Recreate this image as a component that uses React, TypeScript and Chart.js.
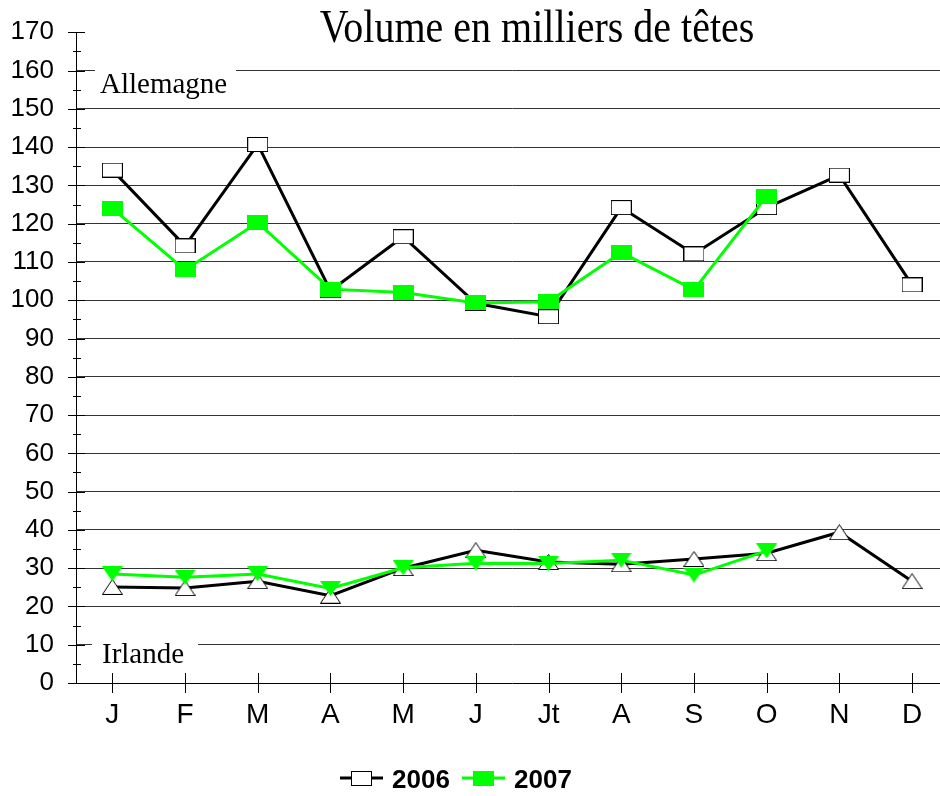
import React, { useEffect, useRef } from "react";
import { Chart, registerables } from "chart.js";

Chart.register(...registerables);

const months = ["J", "F", "M", "A", "M", "J", "Jt", "A", "S", "O", "N", "D"];
const allemagne2006 = [134, 114.2, 140.7, 102.5, 116.6, 99.2, 95.7, 124.2, 112.1, 124.2, 132.7, 104];
const allemagne2007 = [124, 107.9, 120.3, 102.9, 102, 99.3, 99.6, 112.5, 102.7, 127.2, null, null];
const irlande2006 = [25.1, 24.8, 26.6, 22.8, 30.0, 34.7, 31.6, 31.0, 32.4, 33.9, 39.4, 26.6];
const irlande2007 = [28.5, 27.6, 28.5, 24.7, 30.1, 31.3, 31.2, 32.1, 28.2, 34.5, null, null];
const legendLabels = ["2006", "2007"];
const titleText = "Volume en milliers de têtes";
const groupLabels = ["Allemagne", "Irlande"];

const GREEN = "#00ff00";
// plot frame (layout, not data)
const AREA = { left: 76, right: 948.4, top: 32.3, bottom: 683 };
const X_AXIS_H = 60;

function makeCanvas(w: number, h: number, draw: (c: CanvasRenderingContext2D) => void) {
  const c = document.createElement("canvas");
  c.width = w;
  c.height = h;
  const ctx = c.getContext("2d")!;
  draw(ctx);
  return c;
}

export default function App() {
  const ref = useRef<HTMLCanvasElement | null>(null);

  useEffect(() => {
    if (!ref.current) return;

    const rectWhite = makeCanvas(21, 15, (c) => {
      c.fillStyle = "#fff";
      c.fillRect(0, 0, 21, 15);
      c.strokeStyle = "#000";
      c.lineWidth = 1;
      c.strokeRect(0.5, 0.5, 20, 14);
    });
    const rectGreen = makeCanvas(21, 15, (c) => {
      c.fillStyle = GREEN;
      c.fillRect(0, 0, 21, 15);
    });
    const triUp = makeCanvas(21, 16, (c) => {
      c.beginPath();
      c.moveTo(10.5, 0.5);
      c.lineTo(20.5, 15.5);
      c.lineTo(0.5, 15.5);
      c.closePath();
      c.fillStyle = "#fff";
      c.fill();
      c.strokeStyle = "#000";
      c.lineWidth = 1;
      c.stroke();
    });
    const triDown = makeCanvas(21, 15, (c) => {
      c.beginPath();
      c.moveTo(0, 0);
      c.lineTo(21, 0);
      c.lineTo(10.5, 15);
      c.closePath();
      c.fillStyle = GREEN;
      c.fill();
    });

    const framePlugin = {
      id: "frame",
      afterLayout(chart: any) {
        const ca = chart.chartArea;
        ca.left = AREA.left;
        ca.right = AREA.right;
        ca.top = AREA.top;
        ca.bottom = AREA.bottom;
        ca.width = AREA.right - AREA.left;
        ca.height = AREA.bottom - AREA.top;
        const ys = chart.scales.y;
        ys.left = 0;
        ys.right = AREA.left;
        ys.width = AREA.left;
        ys.top = AREA.top;
        ys.bottom = AREA.bottom;
        ys.height = AREA.bottom - AREA.top;
        ys.configure();
        const xs = chart.scales.x;
        xs.left = AREA.left;
        xs.right = AREA.right;
        xs.width = AREA.right - AREA.left;
        xs.top = AREA.bottom;
        xs.bottom = AREA.bottom + X_AXIS_H;
        xs.height = X_AXIS_H;
        xs.configure();
      },
    };

    const decorPlugin = {
      id: "decor",
      afterDraw(chart: any) {
        const ctx = chart.ctx as CanvasRenderingContext2D;
        const xs = chart.scales.x;
        const ys = chart.scales.y;
        const left = chart.chartArea.left;
        const bottom = chart.chartArea.bottom;
        ctx.save();
        // tick marks crossing axes
        ctx.strokeStyle = "#000";
        ctx.lineWidth = 1;
        ctx.beginPath();
        for (let v = 0; v <= 170; v += 5) {
          const y = Math.round(ys.getPixelForValue(v)) + 0.5;
          if (v % 10 === 0) {
            ctx.moveTo(left - 8, y);
            ctx.lineTo(left + 9, y);
          } else {
            ctx.moveTo(left - 3, y);
            ctx.lineTo(left + 5, y);
          }
        }
        for (let i = 0; i < months.length; i++) {
          const x = Math.round(xs.getPixelForValue(i)) + 0.5;
          ctx.moveTo(x, bottom - 10);
          ctx.lineTo(x, bottom + 10);
        }
        ctx.stroke();

        // group labels with white boxes over gridlines
        const y160 = ys.getPixelForValue(160);
        const y10 = ys.getPixelForValue(10);
        ctx.fillStyle = "#fff";
        ctx.fillRect(left + 19, y160 - 8, 141, 16);
        ctx.fillRect(left + 16, y10 - 6, 106, 12);
        ctx.fillStyle = "#000";
        ctx.font = '29px "Liberation Serif"';
        ctx.textAlign = "left";
        ctx.textBaseline = "alphabetic";
        ctx.fillText(groupLabels[0], left + 24, y160 + 22.5);
        ctx.fillText(groupLabels[1], left + 26, y10 + 18.5);

        // title
        ctx.save();
        ctx.translate(537, 41.5);
        ctx.scale(1, 1.15);
        ctx.font = '40px "Liberation Serif"';
        ctx.textAlign = "center";
        ctx.fillText(titleText, 0, 0);
        ctx.restore();

        // legend
        const items = [
          { x: 340, color: "#000", marker: rectWhite },
          { x: 462, color: GREEN, marker: rectGreen },
        ];
        const ly = 778;
        items.forEach((it, i) => {
          ctx.strokeStyle = it.color;
          ctx.lineWidth = 3;
          ctx.beginPath();
          ctx.moveTo(it.x, ly);
          ctx.lineTo(it.x + 43, ly);
          ctx.stroke();
          ctx.drawImage(it.marker, it.x + 11, ly - 7);
          ctx.fillStyle = "#000";
          ctx.font = 'bold 26px "Liberation Sans"';
          ctx.textAlign = "left";
          ctx.fillText(legendLabels[i], it.x + 52, ly + 10);
        });
        ctx.restore();
      },
    };

    const chart = new Chart(ref.current, {
      type: "line",
      data: {
        labels: months,
        datasets: [
          {
            label: "Allemagne " + legendLabels[1],
            data: allemagne2007,
            borderColor: GREEN,
            borderWidth: 3,
            pointStyle: rectGreen as any,
            pointRadius: 10,
            tension: 0,
            spanGaps: false,
          },
          {
            label: "Irlande " + legendLabels[1],
            data: irlande2007,
            borderColor: GREEN,
            borderWidth: 3,
            pointStyle: triDown as any,
            pointRadius: 10,
            tension: 0,
          },
          {
            label: "Allemagne " + legendLabels[0],
            data: allemagne2006,
            borderColor: "#000",
            borderWidth: 3,
            pointStyle: rectWhite as any,
            pointRadius: 10,
            tension: 0,
          },
          {
            label: "Irlande " + legendLabels[0],
            data: irlande2006,
            borderColor: "#000",
            borderWidth: 3,
            pointStyle: triUp as any,
            pointRadius: 10,
            tension: 0,
          },
        ],
      },
      options: {
        responsive: false,
        animation: false,
        events: [],
        layout: { padding: { left: 0, right: 11.6, top: 32.3, bottom: 53 } },
        plugins: {
          legend: { display: false },
          title: { display: false },
          tooltip: { enabled: false },
        },
        scales: {
          x: {
            type: "category",
            offset: true,
            grid: { display: false, drawTicks: false },
            border: { display: true, color: "#000", width: 1 },
            ticks: {
              color: "#000",
              font: { family: '"Liberation Sans"', size: 28 },
              padding: 15,
              autoSkip: false,
              maxRotation: 0,
            },
            afterFit: (s: any) => {
              s.height = X_AXIS_H;
            },
          },
          y: {
            min: 0,
            max: 170,
            grid: {
              drawTicks: false,
              color: (c: any) => {
                const v = c.tick ? c.tick.value : 0;
                return v % 10 === 0 && v !== 0 && v !== 170 ? "#333" : "rgba(0,0,0,0)";
              },
              lineWidth: 1,
            },
            border: { display: true, color: "#000", width: 1 },
            ticks: {
              stepSize: 5,
              autoSkip: false,
              color: "#000",
              font: { family: '"Liberation Sans"', size: 26 },
              padding: 22,
              callback: (v: any) => (Number(v) % 10 === 0 ? String(v) : ""),
            },
            afterFit: (s: any) => {
              s.width = AREA.left;
            },
          },
        },
      },
      plugins: [framePlugin, decorPlugin],
    });

    return () => chart.destroy();
  }, []);

  return (
    <div
      style={{
        position: "fixed",
        left: 0,
        top: 0,
        width: 940,
        height: 796,
        overflow: "hidden",
        background: "#fff",
      }}
    >
      <canvas ref={ref} width={960} height={796} style={{ display: "block" }} />
    </div>
  );
}
